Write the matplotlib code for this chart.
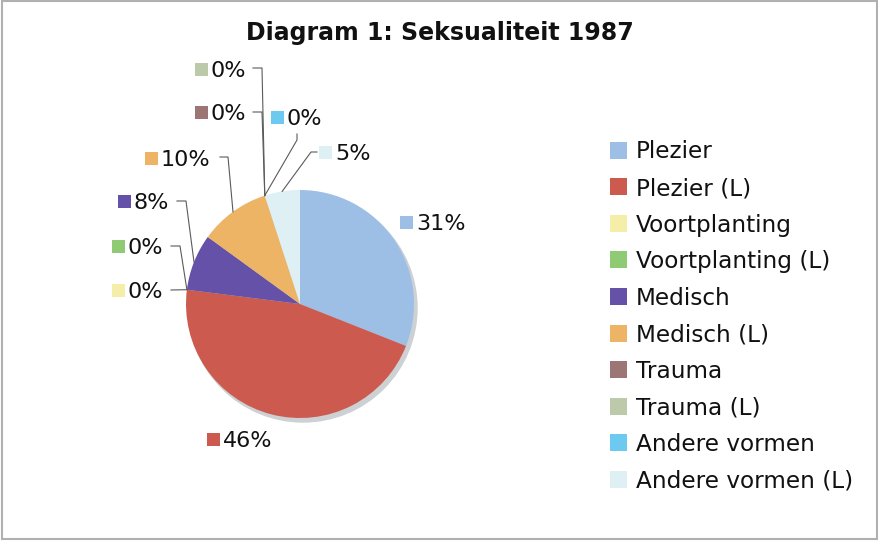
import numpy as np
import matplotlib.pyplot as plt
from matplotlib.patches import Rectangle, Circle

# data
categories = ["Plezier", "Plezier (L)", "Voortplanting", "Voortplanting (L)",
              "Medisch", "Medisch (L)", "Trauma", "Trauma (L)",
              "Andere vormen", "Andere vormen (L)"]
values = [31, 46, 0, 0, 8, 10, 0, 0, 0, 5]
colors = ["#9dbfe6", "#cc5a4e", "#f5eea8", "#8fcb74", "#6551a8",
          "#edb466", "#9c7575", "#bccaa9", "#6cc9ef", "#def0f4"]

# layout in pixel units (figure is 879 x 542)
W, H = 879, 542
pie_center = (300, 304)
pie_radius = 114
# label square: left x, center y
label_pos = [(400, 222), (207, 439), (112, 290), (112, 246), (118, 201),
             (145, 158), (195, 112), (195, 69), (271, 117), (319, 152)]
# leader line points (label side), the end is the wedge edge
leaders = {
    2: [(171, 290)],
    3: [(171, 246), (180, 246)],
    4: [(177, 201), (186, 201)],
    5: [(220, 157), (228, 157)],
    6: [(253, 112), (262, 112)],
    7: [(253, 68), (262, 68)],
    8: [(297, 134), (297, 140)],
    9: [(317, 152), (311, 152)],
}

fs = 16
fs_leg = 16.7


def cap(size):
    return 0.73 * size * 100 / 72


fig = plt.figure(figsize=(W / 100, H / 100), dpi=100)
ax = fig.add_axes([0, 0, 1, 1])

ax.add_patch(Circle((pie_center[0] + 3, pie_center[1] + 4), pie_radius,
                    color="#cdd1d3", zorder=0))
wedges, _ = ax.pie(values, colors=colors, startangle=-90, counterclock=True,
                   center=pie_center, radius=pie_radius,
                   wedgeprops=dict(linewidth=0, zorder=2))
ax.set_xlim(0, W)
ax.set_ylim(H, 0)
ax.set_aspect("equal")
ax.axis("off")

# data labels
for i, (w, v) in enumerate(zip(wedges, values)):
    x, cy = label_pos[i]
    ax.add_patch(Rectangle((x, cy - 6.5), 13, 13, color=colors[i], lw=0, zorder=3))
    ax.text(x + 16, cy + cap(fs) / 2, f"{v}%", fontsize=fs, color="#111111",
            va="baseline", ha="left")
    if i in leaders:
        mid = np.deg2rad((w.theta1 + w.theta2) / 2)
        end = (w.center[0] + w.r * np.cos(mid), w.center[1] + w.r * np.sin(mid))
        pts = leaders[i] + [end]
        ax.plot([p[0] for p in pts], [p[1] for p in pts], color="#5a5a5a",
                lw=0.8, zorder=4)

# legend
leg_x, leg_y0, leg_dy = 610, 150, 36.6
for i, name in enumerate(categories):
    cy = leg_y0 + i * leg_dy
    ax.add_patch(Rectangle((leg_x, cy - 8.5), 17, 17, color=colors[i], lw=0))
    ax.text(leg_x + 26, cy + cap(fs_leg) / 2, name, fontsize=fs_leg,
            color="#111111", va="baseline", ha="left")

ax.text(440, 40, "Diagram 1: Seksualiteit 1987", fontsize=17, fontweight="bold",
        ha="center", va="baseline", color="#111111")

ax.add_patch(Rectangle((2, 1), 875, 538, fill=False, ec="#b0b0b0", lw=1.5))

fig.savefig("out.png", dpi=100)
